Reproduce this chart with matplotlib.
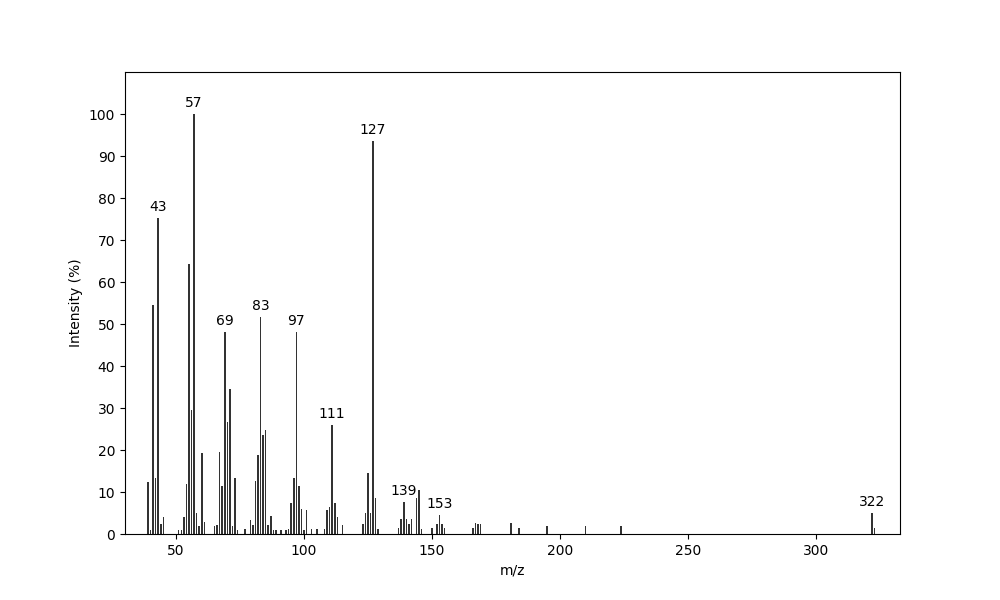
import matplotlib
matplotlib.use("Agg")
import matplotlib.pyplot as plt

mz = [39,40,41,42,43,44,45,51,52,53,54,55,56,57,58,59,60,61,65,66,67,68,69,70,71,72,73,74,77,79,80,
      81,82,83,84,85,86,87,88,89,91,93,94,95,96,97,98,99,100,101,103,105,108,109,110,111,112,113,115,
      123,124,125,126,127,128,129,137,138,139,140,141,142,144,145,146,150,152,153,154,155,
      166,167,168,169,181,184,195,210,224,322,323]
intensity = [12.4,1,54.6,13.4,75.2,2.5,4,1,1,4,12,64.4,29.6,100,5,2,19.3,2.9,2,2.1,19.6,11.5,48,26.7,34.6,2,13.4,1,1.2,3.3,2.1,
             12.7,18.9,51.7,23.6,24.8,2.1,4.3,1,1,1,1,1.3,7.5,13.4,48,11.5,6,1,5.7,1.2,1.2,1.2,5.7,6.4,26,7.4,4.1,2.1,
             2.4,5,14.6,5,93.5,8.6,1.2,1.4,3.6,7.6,3.6,2.4,3.6,8.6,10.5,1.2,1.4,2.4,4.5,2.4,1.4,
             1.4,2.6,2.4,2.4,2.7,1.4,2,2,2,5,1.5]
labeled = [43,57,69,83,97,111,127,139,153,322]

fig, ax = plt.subplots(figsize=(10, 6), dpi=100)
ax.bar(mz, intensity, width=0.6, color='#333333')
for m in labeled:
    v = intensity[mz.index(m)]
    ax.annotate(str(m), (m, v), xytext=(0, 3), textcoords='offset points',
                ha='center', va='bottom', fontsize=10)
ax.set_xlim(30, 333)
ax.set_ylim(0, 110)
ax.set_yticks(range(0, 101, 10))
ax.set_xlabel('m/z')
ax.set_ylabel('Intensity (%)')
fig.savefig('out.png')
